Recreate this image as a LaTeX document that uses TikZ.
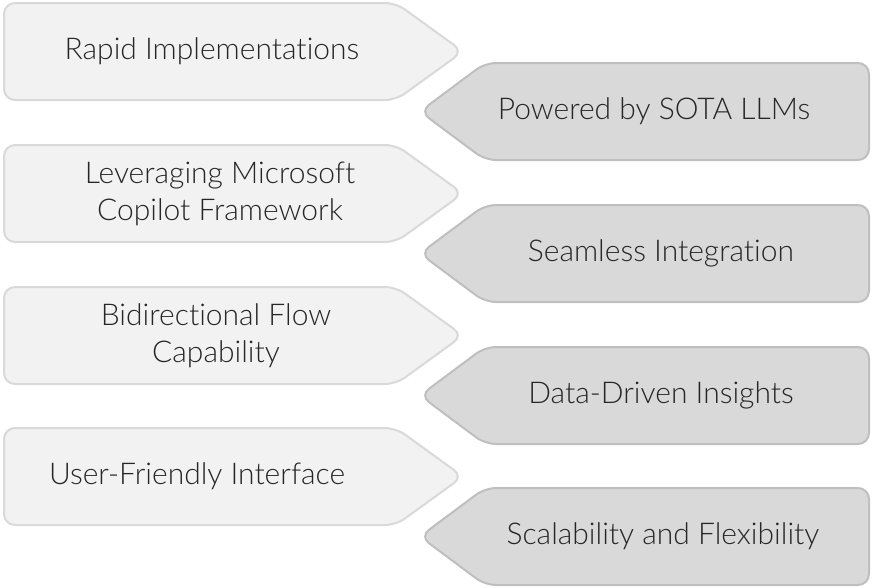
\documentclass[tikz,border=0pt]{standalone}
\usepackage{fontspec}
\setmainfont{Lato Light}[Ligatures=NoCommon]
\definecolor{lfill}{HTML}{F2F2F2}
\definecolor{ldraw}{HTML}{D9D9D9}
\definecolor{rfill}{HTML}{D9D9D9}
\definecolor{rdraw}{HTML}{BFBFBF}
\definecolor{txt}{HTML}{262626}
\tikzset{
  leftarrow/.style={fill=lfill, draw=ldraw, line width=2pt, rounded corners=11pt},
  rightarrow/.style={fill=rfill, draw=rdraw, line width=2pt, rounded corners=11pt},
  lbl/.style={text=txt, font=\fontsize{30}{37}\selectfont, align=center, inner sep=0pt},
}
\newcommand{\lshape}[2]{%
  \draw[leftarrow] (4,#1) -- (396,#1) -- (463,#1+48.5) -- (396,#1+97) -- (4,#1+97) -- cycle;}
\newcommand{\rshape}[2]{%
  \draw[rightarrow] (869,#1) -- (485,#1) -- (420,#1+48.5) -- (485,#1+97) -- (869,#1+97) -- cycle;}
\begin{document}
\begin{tikzpicture}[x=1pt,y=-1pt]
\useasboundingbox (0,0) rectangle (872,587);
\lshape{3}{}
\rshape{63}{}
\lshape{145}{}
\rshape{205}{}
\lshape{287}{}
\rshape{347}{}
\lshape{428}{}
\rshape{488}{}
\node[lbl] (l1) at (212,51.5) {Rapid Implementations};
\node[lbl] (r1) at (654,111.5) {Powered by SOTA LLMs};
\node[lbl] (l2) at (220,193.5) {Leveraging Microsoft\\Copilot Framework};
\node[lbl] (r2) at (661,253.5) {Seamless Integration};
\node[lbl] (l3) at (216,335.5) {Bidirectional Flow\\Capability};
\node[lbl] (r3) at (661,395.5) {Data-Driven Insights};
\node[lbl] (l4) at (197,476.5) {User-Friendly Interface};
\node[lbl] (r4) at (663,536.5) {Scalability and Flexibility};
\end{tikzpicture}
\end{document}
